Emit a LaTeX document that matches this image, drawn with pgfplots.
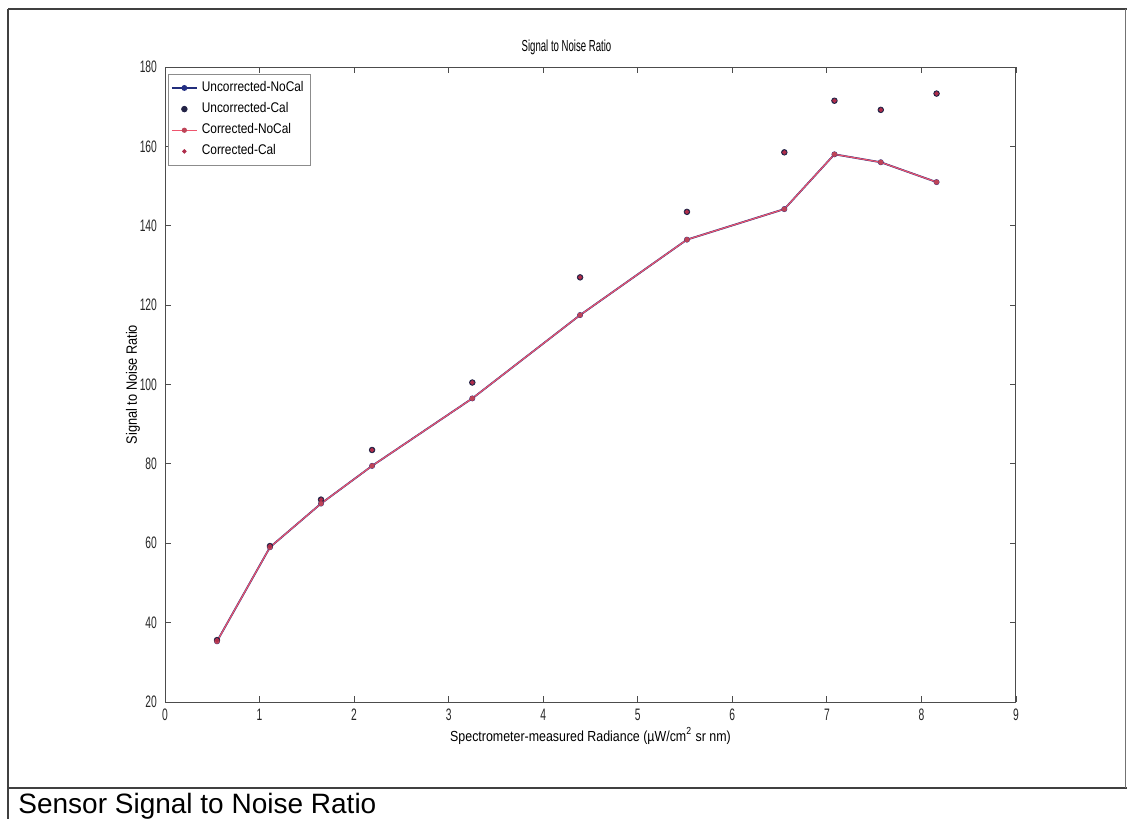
\documentclass[border=0pt]{standalone}
\usepackage{fontspec}
\setmainfont{Liberation Sans}
\newfontfamily\cfont[FakeStretch=0.85]{Liberation Sans}
\newfontfamily\tfont[FakeStretch=0.6]{Liberation Sans}
\newfontfamily\kfont[FakeStretch=0.62]{Liberation Sans}
\usepackage{pgfplots}
\pgfplotsset{compat=1.18}
\definecolor{ublue}{RGB}{45,60,165}
\definecolor{navy}{RGB}{35,35,70}
\definecolor{cred}{RGB}{238,85,110}
\definecolor{dred}{RGB}{175,45,75}
\begin{document}
\begin{tikzpicture}
\path[use as bounding box] (0,0) rectangle (563.5pt,-409.5pt);
\draw[black!75, line width=0.8pt] (4pt,-4.5pt) -- (563.5pt,-4.5pt);
\draw[black!75, line width=0.8pt] (4pt,-4.5pt) -- (4pt,-409.5pt);
\draw[black!75, line width=0.8pt] (4pt,-394pt) -- (563.5pt,-394pt);
\draw[black!55, line width=0.6pt] (562.7pt,-4.5pt) -- (562.7pt,-394pt);
\node[anchor=base west, inner sep=0pt, font=\fontsize{14}{16}\selectfont] at (9pt,-406.5pt) {Sensor Signal to Noise Ratio};
\begin{axis}[
  at={(82.5pt,-351pt)}, anchor=south west,
  scale only axis, width=425.5pt, height=317.5pt,
  xmin=0, xmax=9, ymin=20, ymax=180,
  xtick={0,1,...,9}, ytick={20,40,...,180},
  tick align=inside, major tick length=3pt,
  axis line style={black!70, line width=0.5pt},
  every tick/.style={black!70, line width=0.4pt},
  /pgf/number format/assume math mode=true,
  ticklabel style={font=\kfont\fontsize{8.3}{9}\selectfont, text=black!85},
  xticklabel style={yshift=0pt},
  yticklabel style={xshift=-0.5pt},
  title={Signal to Noise Ratio},
  every axis title shift=0pt,
  title style={at={(axis description cs:0.5,1)}, anchor=base, xshift=-12pt, yshift=8pt, font=\tfont\fontsize{8}{9}\selectfont},
  xlabel={Spectrometer-measured Radiance (µW/cm\textsuperscript{2} sr nm)},
  xlabel style={at={(axis description cs:0.5,0)}, anchor=base, yshift=-19.5pt, font=\cfont\fontsize{7.3}{8}\selectfont},
  ylabel={Signal to Noise Ratio},
  ylabel style={at={(axis description cs:0,0.5)}, anchor=center, yshift=16pt, font=\cfont\fontsize{7.5}{8}\selectfont},
  legend style={at={(axis description cs:0.003,0.989)}, anchor=north west,
    font=\cfont\fontsize{7}{8}\selectfont, draw=black!45, fill=white,
    inner sep=1.5pt, row sep=0pt, cells={anchor=west}},
  legend image code/.code={\draw[mark repeat=2,mark phase=2] plot coordinates {(0cm,0cm) (0.22cm,0cm) (0.44cm,0cm)};},
]
\addplot[ublue!75!black, line width=0.9pt, mark=*, mark size=1pt, mark options={ublue!80!black}] coordinates {
(0.55,35.3) (1.11,59) (1.65,70) (2.19,79.5) (3.25,96.5) (4.39,117.5) (5.52,136.5) (6.55,144.2) (7.08,158) (7.57,156) (8.16,151)};
\addlegendentry{Uncorrected-NoCal}
\addplot[only marks, mark=*, mark size=1.4pt, navy] coordinates {
(0.55,35.6) (1.11,59.3) (1.65,71) (2.19,83.5) (3.25,100.5) (4.39,127) (5.52,143.5) (6.55,158.5) (7.08,171.5) (7.57,169.2) (8.16,173.3)};
\addlegendentry{Uncorrected-Cal}
\addplot[cred, line width=0.6pt, mark=*, mark size=1pt, mark options={cred!80!black}] coordinates {
(0.55,35.3) (1.11,59) (1.65,70) (2.19,79.5) (3.25,96.5) (4.39,117.5) (5.52,136.5) (6.55,144.2) (7.08,158) (7.57,156) (8.16,151)};
\addlegendentry{Corrected-NoCal}
\addplot[only marks, mark=*, mark size=0.9pt, dred] coordinates {
(0.55,35.6) (1.11,59.3) (1.65,71) (2.19,83.5) (3.25,100.5) (4.39,127) (5.52,143.5) (6.55,158.5) (7.08,171.5) (7.57,169.2) (8.16,173.3)};
\addlegendentry{Corrected-Cal}
\end{axis}
\end{tikzpicture}
\end{document}
